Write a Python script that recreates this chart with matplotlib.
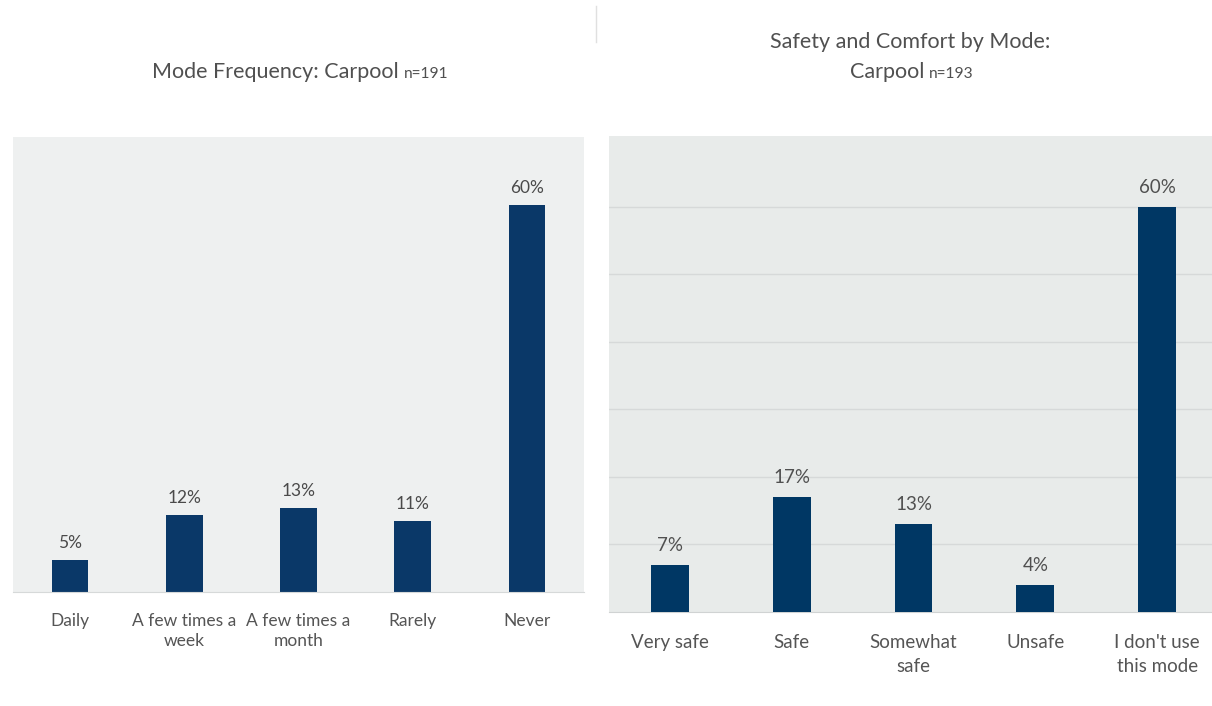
import matplotlib
matplotlib.use("Agg")
import matplotlib.pyplot as plt
from matplotlib.lines import Line2D

plt.rcParams['font.family'] = ['Lato', 'DejaVu Sans']

# mode frequency survey
freq_labels = ["Daily", "A few times a\nweek", "A few times a\nmonth", "Rarely", "Never"]
freq_values = [5, 12, 13, 11, 60]
freq_n = 191

# safety and comfort survey
safety_labels = ["Very safe", "Safe", "Somewhat\nsafe", "Unsafe", "I don't use\nthis mode"]
safety_values = [7, 17, 13, 4, 60]
safety_n = 193

W, H = 1212, 706
fig = plt.figure(figsize=(W / 100, H / 100), dpi=100)


def px_axes(x0, y0, x1, y1):
    # pixel box (top-left origin) -> figure axes
    return fig.add_axes([x0 / W, 1 - y1 / H, (x1 - x0) / W, (y1 - y0) / H])


def title_with_n(x, y, main, small, size, color):
    # main title text followed by a smaller "n=" note, centred as one piece
    r = fig.canvas.get_renderer()
    t1 = fig.text(0, 1 - y / H, main, fontsize=size, color=color, va='center', ha='left')
    t2 = fig.text(0, 1 - y / H, small, fontsize=size * 0.72, color=color, va='center', ha='left')
    w1 = t1.get_window_extent(r).width
    w2 = t2.get_window_extent(r).width
    gap = 5
    left = x - (w1 + gap + w2) / 2
    t1.set_x(left / W)
    t2.set_x((left + w1 + gap) / W)
    t2.set_y(1 - (y + 2) / H)


# left chart
ax1 = px_axes(13, 137, 584, 592)
ax1.set_facecolor('#eef0f0')
xs = range(len(freq_values))
ax1.bar(xs, freq_values, width=0.32, color='#0a3868')
for x, v in zip(xs, freq_values):
    ax1.text(x, v + 1.4, f"{v}%", ha='center', va='bottom', fontsize=12.5, color='#4a4a4a')
ax1.set_xlim(-0.5, 4.5)
ax1.set_ylim(0, 70.5)
ax1.set_xticks(list(xs))
ax1.set_xticklabels(freq_labels, fontsize=12.5, color='#555555', linespacing=1.3)
ax1.tick_params(axis='x', length=0, pad=15)
ax1.set_yticks([])
for s in ['top', 'left', 'right']:
    ax1.spines[s].set_visible(False)
ax1.spines['bottom'].set_color('#d6d9d9')

title_with_n(300, 72, "Mode Frequency: Carpool", f"n={freq_n}", 15.5, '#505050')

# right chart
ax2 = px_axes(609, 136, 1218, 612)
ax2.set_facecolor('#e8ebea')
xs = range(len(safety_values))
ax2.bar(xs, safety_values, width=0.31, color='#003764', zorder=3)
for x, v in zip(xs, safety_values):
    ax2.text(x, v + 1.6, f"{v}%", ha='center', va='bottom', fontsize=13.5, color='#505050')
ax2.set_xlim(-0.5, 4.5)
ax2.set_ylim(0, 70.5)
ax2.set_yticks([10, 20, 30, 40, 50, 60])
ax2.yaxis.grid(True, color='#d6d9d9', linewidth=1, zorder=0)
ax2.tick_params(axis='y', length=0, labelleft=False)
ax2.set_xticks(list(xs))
ax2.set_xticklabels(safety_labels, fontsize=13.5, color='#555555', linespacing=1.5)
ax2.tick_params(axis='x', length=0, pad=16)
for s in ['top', 'left', 'right']:
    ax2.spines[s].set_visible(False)
ax2.spines['bottom'].set_color('#d0d3d3')

fig.text(910 / W, 1 - 42 / H, "Safety and Comfort by Mode:", fontsize=15.5, color='#505050',
         ha='center', va='center')
title_with_n(912, 72, "Carpool", f"n={safety_n}", 15.5, '#505050')

# thin divider at the top between the two panels
fig.add_artist(Line2D([596 / W, 596 / W], [1 - 42 / H, 1 - 6 / H], color='#e0e0e0', linewidth=1))

fig.savefig("out.png", dpi=100)
